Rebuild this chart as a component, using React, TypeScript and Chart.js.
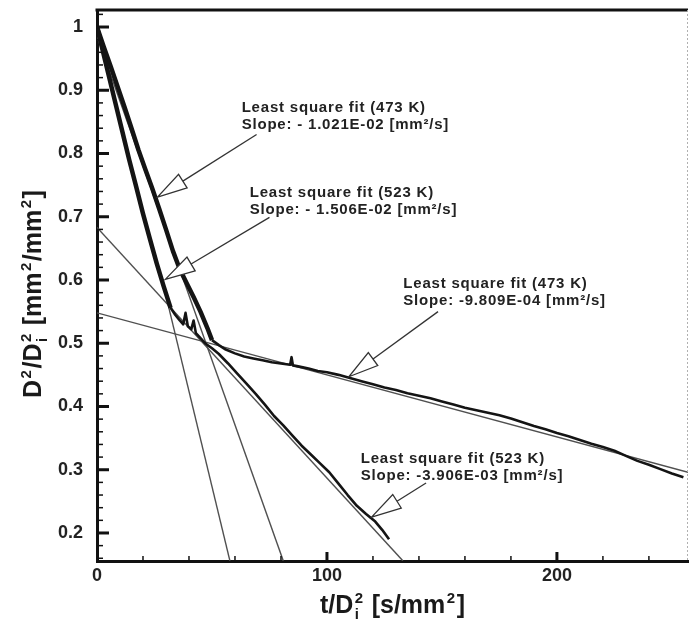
import React, { useEffect, useRef } from 'react';
import { Chart, registerables } from 'chart.js';

Chart.register(...registerables);

const FONT = '"Liberation Sans", Arial, Helvetica, sans-serif';

// ---- measured curves (t/Di^2 vs D^2/Di^2) ----
const t523a = [0, 2, 5, 8, 11, 14, 17, 20, 23, 26, 29, 32];
const d523a = [1.0, 0.97, 0.925, 0.88, 0.835, 0.79, 0.748, 0.705, 0.665, 0.626, 0.59, 0.556];

const t523b = [32, 34, 36, 37.5, 38.5, 39.5, 41, 42, 43, 45, 47, 50, 53, 57, 61, 65, 69, 73, 77, 81, 85, 89, 93, 97, 101, 105, 109, 113, 117, 121, 124, 127];
const d523b = [0.556, 0.545, 0.536, 0.53, 0.548, 0.527, 0.522, 0.536, 0.516, 0.508, 0.5, 0.492, 0.483, 0.468, 0.452, 0.436, 0.42, 0.403, 0.385, 0.37, 0.354, 0.338, 0.324, 0.31, 0.296, 0.278, 0.26, 0.243, 0.23, 0.218, 0.205, 0.19];

const t473a = [0, 3, 6, 9, 12, 15, 18, 21, 24, 27, 30, 33, 36, 39, 42, 45, 48, 50];
const d473a = [1.0, 0.968, 0.937, 0.905, 0.873, 0.84, 0.806, 0.775, 0.745, 0.713, 0.68, 0.646, 0.617, 0.595, 0.573, 0.55, 0.524, 0.505];

const t473b = [50, 53, 56, 60, 64, 68, 72, 76, 80, 84, 84.6, 85.2, 88, 92, 96, 100, 105, 110, 115, 120, 125, 130, 135, 140, 145, 150, 155, 160, 165, 170, 175, 180, 185, 190, 195, 200, 205, 210, 215, 220, 225, 230, 235, 240, 245, 250, 255];
const d473b = [0.505, 0.497, 0.49, 0.484, 0.479, 0.476, 0.473, 0.47, 0.468, 0.466, 0.478, 0.465, 0.463, 0.46, 0.456, 0.454, 0.45, 0.445, 0.44, 0.435, 0.43, 0.426, 0.421, 0.417, 0.413, 0.408, 0.403, 0.398, 0.394, 0.39, 0.386, 0.381, 0.375, 0.369, 0.364, 0.358, 0.353, 0.347, 0.341, 0.336, 0.33, 0.322, 0.314, 0.308, 0.301, 0.294, 0.288];

// ---- least square fit lines (end points) ----
const fit473aT = [0, 81];
const fit473aD = [0.985, 0.156];
const fit523aT = [28, 57.8];
const fit523aD = [0.605, 0.156];
const fit523bT = [0, 133];
const fit523bD = [0.683, 0.156];
const fit473bT = [0, 257];
const fit473bD = [0.548, 0.296];

// ---- ticks ----
const xTickLabels = [0, 100, 200];
const yTickLabels = [0.2, 0.3, 0.4, 0.5, 0.6, 0.7, 0.8, 0.9, 1.0];
const xMajorMarks = [100, 200];
const xMinorMarks = [20, 40, 60, 80, 120, 140, 160, 180, 220, 240];
const yMinorMarks = [0.16, 0.18, 0.22, 0.24, 0.26, 0.28, 0.32, 0.34, 0.36, 0.38, 0.42, 0.44, 0.46, 0.48, 0.52, 0.54, 0.56, 0.58, 0.62, 0.64, 0.66, 0.68, 0.72, 0.74, 0.76, 0.78, 0.82, 0.84, 0.86, 0.88, 0.92, 0.94, 0.96, 0.98, 1.02];

// ---- annotations (data coordinates) ----
const annotations = [
  { lines: ['Least square fit (473 K)', 'Slope: - 1.021E-02 [mm²/s]'], at: [62.9, 0.865], from: [69.4, 0.83], tip: [26.3, 0.731] },
  { lines: ['Least square fit (523 K)', 'Slope: - 1.506E-02 [mm²/s]'], at: [66.4, 0.732], from: [75, 0.699], tip: [29.7, 0.601] },
  { lines: ['Least square fit (473 K)', 'Slope: -9.809E-04 [mm²/s]'], at: [133.2, 0.588], from: [148.3, 0.55], tip: [109.5, 0.447] },
  { lines: ['Least square fit (523 K)', 'Slope: -3.906E-03 [mm²/s]'], at: [114.7, 0.311], from: [143.1, 0.279], tip: [119.4, 0.225] },
];

type Part = { t?: string; sup?: string; sub?: string };
const yTitle: Part[] = [{ t: 'D' }, { sup: '2' }, { t: '/D' }, { sup: '2', sub: 'i' }, { t: ' [mm' }, { sup: '2' }, { t: '/mm' }, { sup: '2' }, { t: ']' }];
const xTitle: Part[] = [{ t: 't/D' }, { sup: '2', sub: 'i' }, { t: ' [s/mm' }, { sup: '2' }, { t: ']' }];

function drawRich(ctx: CanvasRenderingContext2D, parts: Part[], cx: number, baseY: number, size: number) {
  const big = `bold ${size}px ${FONT}`;
  const small = `bold ${Math.round(size * 0.6)}px ${FONT}`;
  const widths = parts.map((p) => {
    if (p.t !== undefined) {
      ctx.font = big;
      return ctx.measureText(p.t).width;
    }
    ctx.font = small;
    const a = ctx.measureText(p.sup || '').width;
    const b = ctx.measureText(p.sub || '').width;
    return Math.max(a, b) + 3;
  });
  const total = widths.reduce((s, w) => s + w, 0);
  let x = cx - total / 2;
  ctx.textAlign = 'left';
  ctx.textBaseline = 'alphabetic';
  parts.forEach((p, i) => {
    if (p.t !== undefined) {
      ctx.font = big;
      ctx.fillText(p.t, x, baseY);
    } else {
      ctx.font = small;
      if (p.sup) ctx.fillText(p.sup, x + 1.5, baseY - size * 0.42);
      if (p.sub) ctx.fillText(p.sub, x + 1.5, baseY + size * 0.24);
    }
    x += widths[i];
  });
}

const overlay = {
  id: 'overlay',
  beforeDraw(chart: any) {
    const ctx = chart.ctx;
    ctx.save();
    ctx.fillStyle = '#ffffff';
    ctx.fillRect(0, 0, chart.width, chart.height);
    ctx.restore();
  },
  afterDraw(chart: any) {
    const { ctx, chartArea: a, scales } = chart;
    const xs = scales.x;
    const ys = scales.y;
    ctx.save();
    // frame: top thick, right faint dotted
    ctx.strokeStyle = '#111';
    ctx.lineWidth = 3;
    ctx.beginPath();
    ctx.moveTo(a.left - 1.5, a.top);
    ctx.lineTo(a.right, a.top);
    ctx.stroke();
    ctx.strokeStyle = '#b0b0b0';
    ctx.lineWidth = 1;
    ctx.setLineDash([2, 2]);
    ctx.beginPath();
    ctx.moveTo(a.right - 0.5, a.top);
    ctx.lineTo(a.right - 0.5, a.bottom);
    ctx.stroke();
    ctx.setLineDash([]);

    // inner tick marks
    ctx.strokeStyle = '#111';
    const markY = (v: number, len: number, w: number) => {
      const py = ys.getPixelForValue(v);
      ctx.lineWidth = w;
      ctx.beginPath();
      ctx.moveTo(a.left, py);
      ctx.lineTo(a.left + len, py);
      ctx.stroke();
    };
    const markX = (v: number, len: number, w: number) => {
      const px = xs.getPixelForValue(v);
      ctx.lineWidth = w;
      ctx.beginPath();
      ctx.moveTo(px, a.bottom);
      ctx.lineTo(px, a.bottom - len);
      ctx.stroke();
    };
    yTickLabels.forEach((v) => markY(v, 12, 3));
    yMinorMarks.forEach((v) => markY(v, 6, 1.5));
    xMajorMarks.forEach((v) => markX(v, 9, 3));
    xMinorMarks.forEach((v) => markX(v, 5, 1.5));

    // annotations
    annotations.forEach((an) => {
      const fx = xs.getPixelForValue(an.from[0]);
      const fy = ys.getPixelForValue(an.from[1]);
      const tx = xs.getPixelForValue(an.tip[0]);
      const ty = ys.getPixelForValue(an.tip[1]);
      const dx = fx - tx;
      const dy = fy - ty;
      const L = Math.hypot(dx, dy);
      const ux = dx / L;
      const uy = dy / L;
      const hl = 30;
      const hw = 8;
      const bx = tx + ux * hl;
      const by = ty + uy * hl;
      ctx.strokeStyle = '#333';
      ctx.lineWidth = 1.3;
      ctx.beginPath();
      ctx.moveTo(fx, fy);
      ctx.lineTo(bx, by);
      ctx.stroke();
      ctx.beginPath();
      ctx.moveTo(tx, ty);
      ctx.lineTo(bx - uy * hw, by + ux * hw);
      ctx.lineTo(bx + uy * hw, by - ux * hw);
      ctx.closePath();
      ctx.fillStyle = '#ffffff';
      ctx.fill();
      ctx.stroke();

      const lx = xs.getPixelForValue(an.at[0]);
      const ly = ys.getPixelForValue(an.at[1]);
      ctx.fillStyle = '#222';
      ctx.font = `bold 15px ${FONT}`;
      (ctx as any).letterSpacing = '0.8px';
      ctx.textAlign = 'left';
      ctx.textBaseline = 'alphabetic';
      an.lines.forEach((s, i) => ctx.fillText(s, lx, ly + i * 17));
      (ctx as any).letterSpacing = '0px';
    });

    // axis titles
    ctx.fillStyle = '#1a1a1a';
    drawRich(ctx, xTitle, (a.left + a.right) / 2, 613, 25);
    ctx.save();
    ctx.translate(41, 294);
    ctx.rotate(-Math.PI / 2);
    drawRich(ctx, yTitle, 0, 0, 25);
    ctx.restore();
    ctx.restore();
  },
};

const pts = (t: number[], d: number[]) => t.map((v, i) => ({ x: v, y: d[i] }));

export default function App() {
  const ref = useRef<HTMLCanvasElement | null>(null);
  useEffect(() => {
    if (!ref.current) return;
    const curve = (t: number[], d: number[], w: number) => ({
      data: pts(t, d),
      borderColor: '#141414',
      borderWidth: w,
      pointRadius: 0,
      fill: false,
      tension: 0,
      borderJoinStyle: 'round' as const,
    });
    const fit = (t: number[], d: number[]) => ({
      data: pts(t, d),
      borderColor: '#505050',
      borderWidth: 1.4,
      pointRadius: 0,
      fill: false,
      tension: 0,
    });
    const tickFont = { family: FONT, size: 18, weight: 'bold' as const };
    const chart = new Chart(ref.current, {
      type: 'line',
      data: {
        datasets: [
          curve(t523a, d523a, 4.5),
          curve(t473a, d473a, 4.5),
          curve(t523b, d523b, 2.6),
          curve(t473b, d473b, 2.6),
          fit(fit473aT, fit473aD),
          fit(fit523aT, fit523aD),
          fit(fit523bT, fit523bD),
          fit(fit473bT, fit473bD),
        ],
      },
      options: {
        animation: false,
        responsive: false,
        events: [],
        layout: { padding: { top: 10, right: 3, left: 0, bottom: 0 } },
        plugins: { legend: { display: false }, tooltip: { enabled: false } },
        scales: {
          x: {
            type: 'linear',
            min: 0,
            max: 257,
            afterBuildTicks: (s: any) => {
              s.ticks = xTickLabels.map((v) => ({ value: v }));
            },
            afterFit: (s: any) => {
              s.height = 60;
              s.paddingLeft = 0;
              s.paddingRight = 0;
            },
            grid: { display: true, drawOnChartArea: false, drawTicks: false },
            border: { display: true, color: '#111', width: 3 },
            ticks: { font: tickFont, color: '#222', padding: 4, maxRotation: 0, autoSkip: false },
          },
          y: {
            type: 'linear',
            min: 0.1557,
            max: 1.0269,
            afterBuildTicks: (s: any) => {
              s.ticks = yTickLabels.map((v) => ({ value: v }));
            },
            afterFit: (s: any) => {
              s.width = 97;
              s.paddingTop = 0;
              s.paddingBottom = 0;
            },
            grid: { display: true, drawOnChartArea: false, drawTicks: false },
            border: { display: true, color: '#111', width: 3 },
            ticks: {
              font: tickFont,
              color: '#222',
              padding: 14,
              autoSkip: false,
              callback: (v: any) => (Number(v) === 1 ? '1' : Number(v).toFixed(1)),
            },
          },
        },
      },
      plugins: [overlay],
    });
    return () => chart.destroy();
  }, []);
  return (
    <canvas
      ref={ref}
      width={691}
      height={621}
      style={{ display: 'block', position: 'absolute', left: 0, top: 0 }}
    />
  );
}
